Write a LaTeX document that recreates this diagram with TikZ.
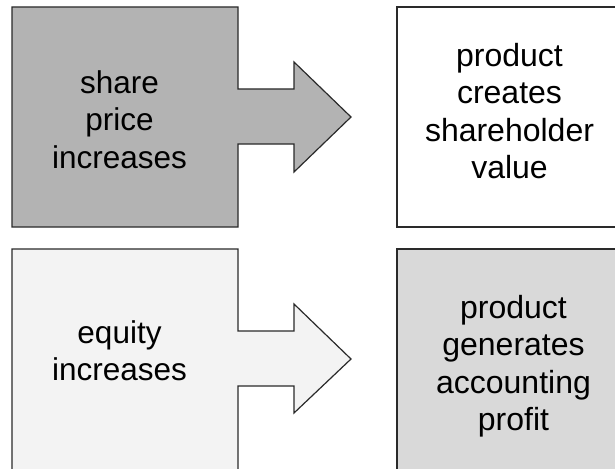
\documentclass[tikz,border=0pt]{standalone}
\usepackage{fontspec}
\setmainfont{Liberation Sans}
\definecolor{darkfill}{HTML}{B3B3B3}
\definecolor{lightfill}{HTML}{F3F3F3}
\definecolor{midfill}{HTML}{D9D9D9}
\definecolor{edge}{HTML}{2A2A2A}
\tikzset{
  shapeedge/.style={draw=edge, line width=1.2pt, line join=miter},
  label/.style={anchor=north, inner sep=0pt, align=center, font=\fontsize{31.5pt}{37.5pt}\selectfont},
  labelr/.style={label, font=\fontsize{32pt}{37.3pt}\selectfont}
}
\begin{document}
\begin{tikzpicture}[x=1pt,y=-1pt]
\useasboundingbox (0,0) rectangle (615,468);
\clip (0,0) rectangle (615,468);
\fill[white] (0,0) rectangle (615,468);
% top-left box with arrow
\draw[shapeedge, fill=darkfill] (12,7) -- (238,7) -- (238,89) -- (294,89) -- (294,62) -- (351,117) -- (294,172) -- (294,144) -- (238,144) -- (238,227) -- (12,227) -- cycle;
% bottom-left box with arrow
\draw[shapeedge, fill=lightfill] (12,470) -- (12,249) -- (238,249) -- (238,331) -- (294,331) -- (294,304) -- (351,359) -- (294,413) -- (294,386) -- (238,386) -- (238,470);
% top-right box
\draw[shapeedge, fill=white] (397,7) rectangle (623,227);
% bottom-right box
\draw[shapeedge, fill=midfill] (397,249) rectangle (623,470);
\node[label] (share) at (119.5,70.4) {share\\price\\increases};
\node[label] (equity) at (119.5,320.4) {equity\\increases};
\node[labelr] (value) at (509.5,43.1) {product\\creates\\shareholder\\value};
\node[labelr] (profit) at (513.5,295.1) {product\\generates\\accounting\\profit};
\end{tikzpicture}
\end{document}
